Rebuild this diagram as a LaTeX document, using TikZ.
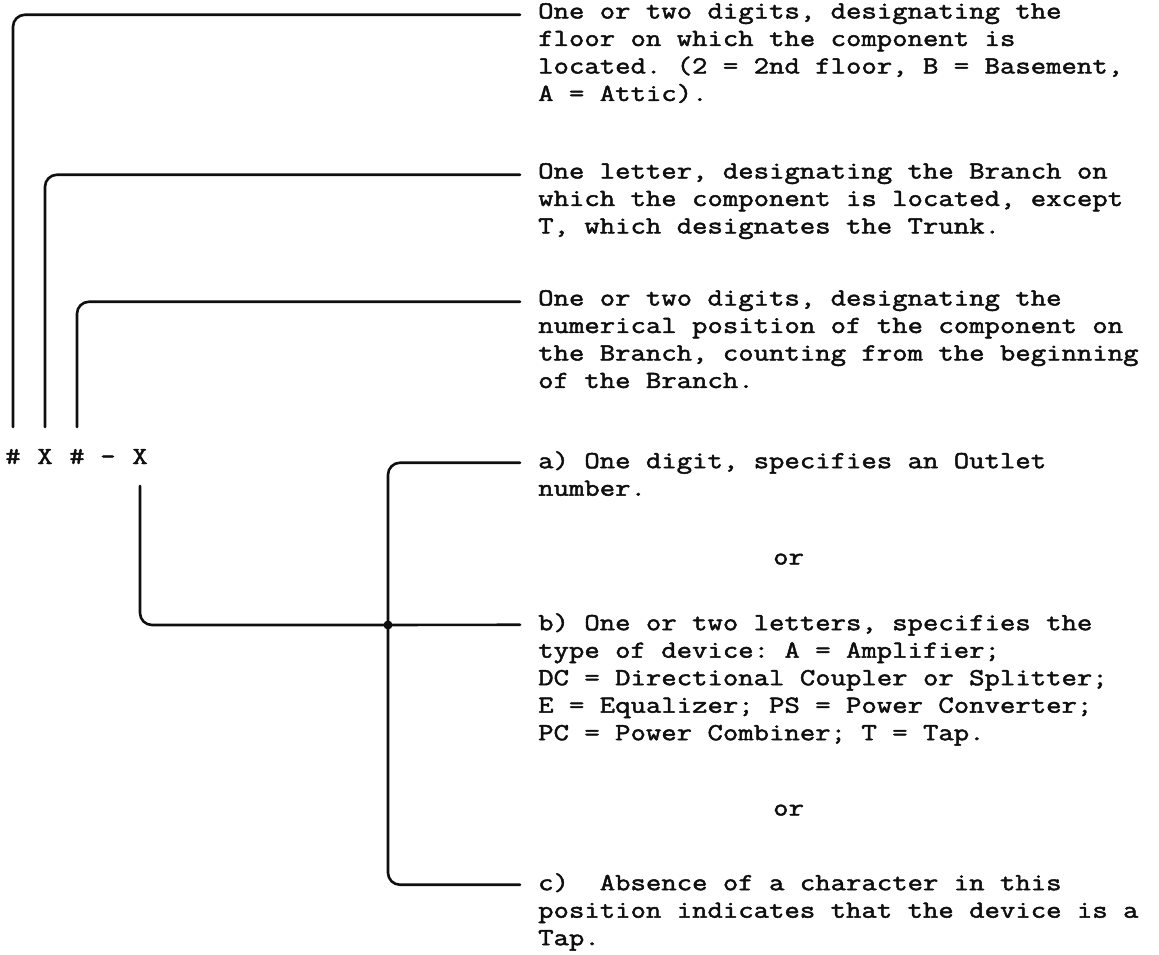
\documentclass[tikz,border=0pt]{standalone}
\usepackage{fontspec}
\usepackage{tikz}
\newfontfamily\typed{Latin Modern Mono}[FakeStretch=1.22, FakeBold=2]

\begin{document}
\begin{tikzpicture}[x=1pt, y=-1pt, line join=round, line cap=round]

    % Define custom colors to match the image
    \definecolor{inkblack}{RGB}{15, 15, 15}

    \tikzset{
        typed text/.style={font={\typed\frenchspacing\fontsize{24.5}{27.5}\selectfont}, text=inkblack, inner sep=0pt},
        desc/.style={typed text, align=left, anchor=north west, execute at begin node=\strut},
        codechar/.style={typed text, anchor=base, outer ysep=22pt},
        lead/.style={inkblack, line width=2.6pt, rounded corners=12pt},
    }

    % Page background and size
    \fill[white] (0,0) rectangle (1159,955);
    \useasboundingbox (0,0) rectangle (1159,955);

    % =======================================================
    % CODE  # X # - X
    % =======================================================
    \foreach \name/\ch/\x in {cfloor/\#/13, cbranch/X/45, cpos/\#/77, cdash/-/108, csuffix/X/140} {
        \node[codechar] (\name) at (\x,464) {\ch};
    }

    % =======================================================
    % DESCRIPTIONS (placed by the top of their first line)
    % =======================================================
    \node[desc] (floor) at (538,3) {One or two digits, designating the\\
        floor on which the component is\\
        located. (2 = 2nd floor, B = Basement,\\
        A = Attic).};
    \node[desc] (branch) at (538,163) {One letter, designating the Branch on\\
        which the component is located, except\\
        T, which designates the Trunk.};
    \node[desc] (position) at (538,290) {One or two digits, designating the\\
        numerical position of the component on\\
        the Branch, counting from the beginning\\
        of the Branch.};
    \node[desc] (outlet) at (538,451) {a) One digit, specifies an Outlet\\
        number.};
    \node[desc] (or1) at (773,545) {or};
    \node[desc] (device) at (538,613) {b) One or two letters, specifies the\\
        type of device: A = Amplifier;\\
        DC = Directional Coupler or Splitter;\\
        E = Equalizer; PS = Power Converter;\\
        PC = Power Combiner; T = Tap.};
    \node[desc] (or2) at (773,796) {or};
    \node[desc] (absence) at (538,873) {c)\ \ Absence of a character in this\\
        position indicates that the device is a\\
        Tap.};

    % =======================================================
    % LEADERS
    % =======================================================
    \coordinate (jn) at (388,625);

    % 1. Floor, Branch, Position
    \draw[lead] (cfloor.north) |- ([xshift=-18pt, yshift=-11.75pt]floor.north west);
    \draw[lead] (cbranch.north) |- ([xshift=-18pt, yshift=-11.75pt]branch.north west);
    \draw[lead] (cpos.north) |- ([xshift=-18pt, yshift=-11.75pt]position.north west);

    % 2. Suffix to the three choices
    \draw[lead] (csuffix.south) |- (jn) -- ([xshift=-18pt, yshift=-11.75pt]device.north west);
    \draw[lead] ([xshift=-18pt, yshift=-11.75pt]outlet.north west) -| (jn)
        |- ([xshift=-18pt, yshift=-11.75pt]absence.north west);
    \fill[inkblack] (jn) circle (4.5pt);

\end{tikzpicture}
\end{document}
